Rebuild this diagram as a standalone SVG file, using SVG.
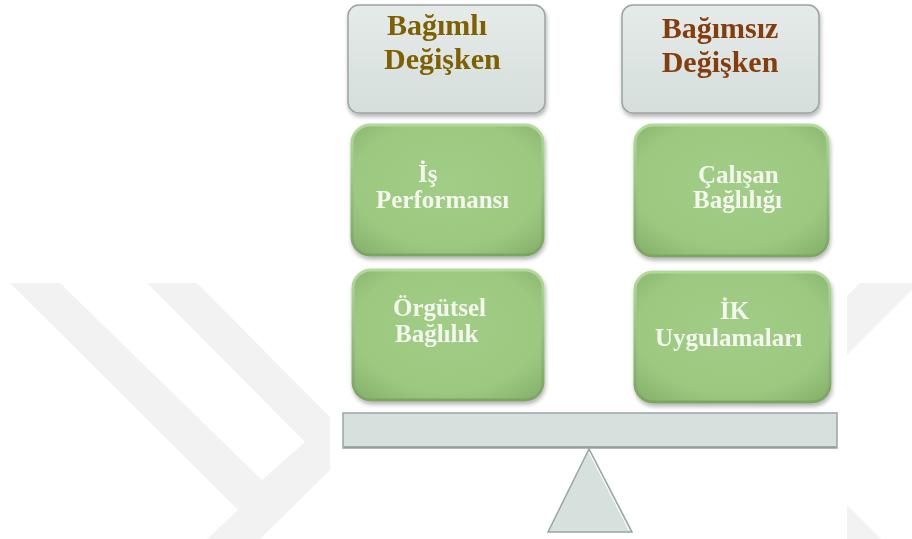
<svg xmlns="http://www.w3.org/2000/svg" width="912" height="539" viewBox="0 0 912 539">
<defs>
<linearGradient id="grayFill" x1="0" y1="0" x2="0" y2="1">
<stop offset="0" stop-color="#e6ebea"/>
<stop offset="1" stop-color="#d4dedb"/>
</linearGradient>
<linearGradient id="greenStroke" x1="0" y1="0" x2="0" y2="1">
<stop offset="0" stop-color="#b3da9c"/>
<stop offset="1" stop-color="#7ba462"/>
</linearGradient>
<radialGradient id="greenFill" cx="0.5" cy="0.45" r="0.7">
<stop offset="0" stop-color="#a1cd86"/>
<stop offset="0.7" stop-color="#9cc880"/>
<stop offset="1" stop-color="#86b26c"/>
</radialGradient>
<filter id="shadow" x="-10%" y="-10%" width="125%" height="130%">
<feGaussianBlur in="SourceAlpha" stdDeviation="2"/>
<feOffset dx="1" dy="3"/>
<feComponentTransfer><feFuncA type="linear" slope="0.3"/></feComponentTransfer>
<feMerge><feMergeNode/><feMergeNode in="SourceGraphic"/></feMerge>
</filter>
</defs>
<style>
.wm{fill:#f2f2f2;}
.gray{fill:url(#grayFill);stroke:#9aa4a2;stroke-width:1.5;}
.green{fill:url(#greenFill);stroke:url(#greenStroke);stroke-width:3;}
.t{font-family:"Liberation Serif","Times New Roman",serif;font-weight:bold;}
.hd1{fill:#7f6000;font-size:30px;}
.hd2{fill:#843c0c;font-size:30px;}
.gt{fill:#f3f7ee;font-size:25px;}
</style>
<rect width="912" height="539" fill="#ffffff"/>
<g id="watermark">
<polygon class="wm" points="10,283 60,283 262,480 305,442 147,283 197,283 330,417 330,470 260,539 207,539 238,510"/>
<polygon class="wm" points="847,296 860,283 912,283 912,290 847,355"/>
<polygon class="wm" points="847,505 881,539 847,539"/>
</g>
<g id="dependent-header" filter="url(#shadow)">
<rect class="gray" x="348" y="5" width="197" height="108" rx="11"/>
<text class="t hd1" x="387" y="35">Bağımlı</text>
<text class="t hd1" x="384" y="69">Değişken</text>
</g>
<g id="independent-header" filter="url(#shadow)">
<rect class="gray" x="622" y="5" width="197" height="108" rx="11"/>
<text class="t hd2" x="720" y="38" text-anchor="middle">Bağımsız</text>
<text class="t hd2" x="720" y="72" text-anchor="middle">Değişken</text>
</g>
<g id="is-performansi" filter="url(#shadow)">
<rect class="green" x="352" y="125" width="191" height="130" rx="18"/>
<text class="t gt" x="418" y="182">İş</text>
<text class="t gt" x="376" y="208">Performansı</text>
</g>
<g id="calisan-bagliligi" filter="url(#shadow)">
<rect class="green" x="635" y="125" width="193" height="131" rx="18"/>
<text class="t gt" x="698" y="183">Çalışan</text>
<text class="t gt" x="693" y="208">Bağlılığı</text>
</g>
<g id="orgutsel-baglilik" filter="url(#shadow)">
<rect class="green" x="353" y="270" width="190" height="130" rx="18"/>
<text class="t gt" x="393" y="316">Örgütsel</text>
<text class="t gt" x="395" y="342">Bağlılık</text>
</g>
<g id="ik-uygulamalari" filter="url(#shadow)">
<rect class="green" x="635" y="272" width="195" height="130" rx="18"/>
<text class="t gt" x="720" y="319">İK</text>
<text class="t gt" x="655" y="346">Uygulamaları</text>
</g>
<g id="beam">
<rect x="343" y="413" width="494" height="35" fill="#d6e0dc" stroke="#9aa4a2" stroke-width="1.5"/>
<line x1="344" y1="447" x2="836" y2="447" stroke="#8e9896" stroke-width="1.5"/>
</g>
<g id="fulcrum">
<polygon points="589,449 548,532 632,532" fill="#d6e0dc" stroke="#9aa4a2" stroke-width="1.5"/>
<polyline points="589,452 629,530" fill="none" stroke="#ffffff" stroke-width="1"/>
</g>
<g id="connectors"></g>
</svg>
